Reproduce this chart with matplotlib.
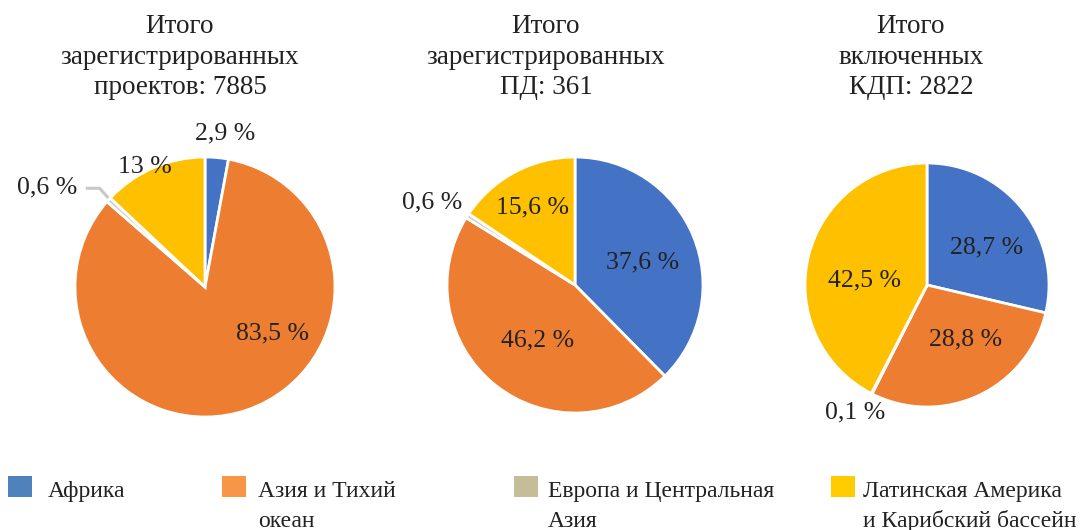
import numpy as np
import matplotlib
matplotlib.use("Agg")
import matplotlib.pyplot as plt
from matplotlib.patches import Rectangle

# ---- data ----
regions = ["Африка", "Азия и Тихий\nокеан", "Европа и Центральная\nАзия",
           "Латинская Америка\nи Карибский бассейн"]
titles = ["Итого\nзарегистрированных\nпроектов: 7885",
          "Итого\nзарегистрированных\nПД: 361",
          "Итого\nвключенных\nКДП: 2822"]
proj_share = [2.9, 83.5, 0.6, 13.0]
pd_share = [37.6, 46.2, 0.6, 15.6]
kdp_share = [28.7, 28.8, 0.1, 42.5]
label_text = [["2,9 %", "83,5 %", "0,6 %", "13 %"],
              ["37,6 %", "46,2 %", "0,6 %", "15,6 %"],
              ["28,7 %", "28,8 %", "0,1 %", "42,5 %"]]
series = [proj_share, pd_share, kdp_share]

# ---- styling / layout ----
pie_colors = ["#4472C4", "#ED7D31", "#D3CFC4", "#FFC000"]
legend_colors = ["#4F81BD", "#F79646", "#C4BD97", "#FFCC00"]
W, H = 1081, 530
pie_centers = [(205, 287), (575, 285), (927, 285)]   # pixels (x, y from top)
pie_radii = [130, 128, 122]
title_x = [180, 546, 911]
title_baselines = [33, 63.5, 94]
# label placement (angle deg, radius factor)
label_pos = [[(82.6, 1.19), (-34.5, 0.63), (147.7, 1.44), (116.8, 1.03)],
             [(18.7, 0.56), (-124.0, 0.52), (150.2, 1.29), (118.6, 0.69)],
             [(32.3, 0.58), (-54.7, 0.55), (-119.6, 1.20), (175.4, 0.51)]]
serif = ["Liberation Serif", "DejaVu Serif"]
text_color = "#222222"

fig = plt.figure(figsize=(W / 100, H / 100), dpi=100)
fig.patch.set_facecolor("white")


def lines_at(x, baselines, text, size, ha):
    for ln, yb in zip(text.split("\n"), baselines):
        fig.text(x / W, 1 - yb / H, ln, ha=ha, va="baseline", fontsize=size,
                 family=serif, color=text_color)


half = 200
for k in range(3):
    cx, cy = pie_centers[k]
    r = pie_radii[k]
    ax = fig.add_axes([(cx - half) / W, (H - cy - half) / H, 2 * half / W, 2 * half / H])
    wedges, _ = ax.pie(series[k], colors=pie_colors, startangle=90, counterclock=False,
                       radius=1.0, wedgeprops=dict(edgecolor="white", linewidth=2.0))
    ax.set_xlim(-half / r, half / r)
    ax.set_ylim(-half / r, half / r)
    ax.axis("off")
    for i, (ang, rf) in enumerate(label_pos[k]):
        a = np.deg2rad(ang)
        ax.text(rf * np.cos(a), rf * np.sin(a), label_text[k][i], ha="center", va="center",
                fontsize=18.5, family=serif, color=text_color)
    lines_at(title_x[k], title_baselines, titles[k], 19.5, "center")
    if k == 0:
        # leader line for the small Europe slice
        w = wedges[2]
        mid = np.deg2rad((w.theta1 + w.theta2) / 2)
        p0 = (0.92 * np.cos(mid), 0.92 * np.sin(mid))
        lab_a = np.deg2rad(label_pos[k][2][0])
        lab_r = label_pos[k][2][1]
        ly = lab_r * np.sin(lab_a) - 0.01
        p1 = (p0[0] - (ly - p0[1]) * 0.9, ly)
        p2 = (lab_r * np.cos(lab_a) + 0.3, ly)
        ax.plot([p0[0], p1[0], p2[0]], [p0[1], p1[1], p2[1]], color="#C8C8C8", lw=2.2,
                solid_capstyle="butt", zorder=0.5)

# ---- legend ----
sq_x = [8, 222, 514, 831]
txt_x = [48, 258, 548, 863]
for i, name in enumerate(regions):
    fig.patches.append(Rectangle((sq_x[i] / W, (H - 497) / H), 24 / W, 21 / H,
                                 transform=fig.transFigure, facecolor=legend_colors[i],
                                 edgecolor="none"))
    lines_at(txt_x[i], [497, 527], name, 17, "left")

fig.savefig("out.png", dpi=100, facecolor="white")
